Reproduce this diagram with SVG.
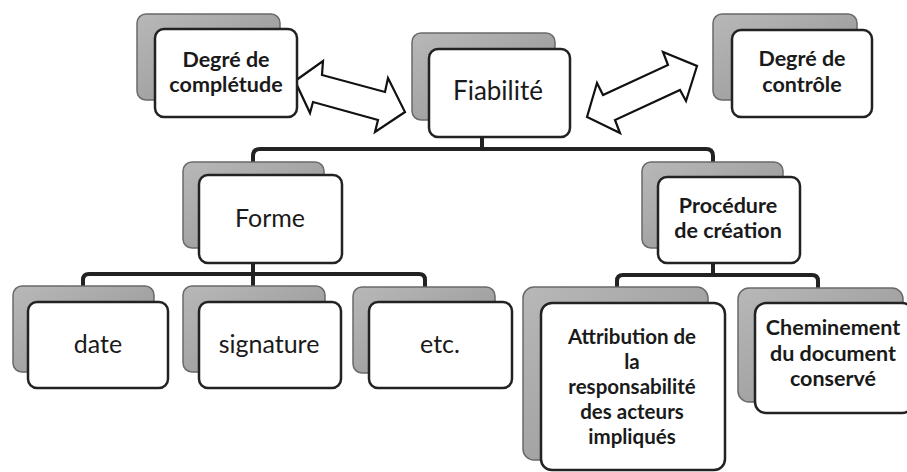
<svg xmlns="http://www.w3.org/2000/svg" width="907" height="472" viewBox="0 0 907 472">
<defs>
<linearGradient id="g" x1="0" y1="0" x2="1" y2="1">
<stop offset="0" stop-color="#b8b8b8"/>
<stop offset="1" stop-color="#929292"/>
</linearGradient>
</defs>
<style>
.back{fill:url(#g);stroke:#6a6a6a;stroke-width:1.5}
.front{fill:#fff;stroke:#222;stroke-width:2.5}
.line{fill:none;stroke:#222;stroke-width:4;stroke-linejoin:round}
.arrow{fill:#fff;stroke:#111;stroke-width:2.2;stroke-linejoin:miter}
text{font-family:Lato,"Open Sans","Liberation Sans",sans-serif;fill:#1a1a1a;text-anchor:middle}
.b{font-weight:bold;font-size:21.5px}
.n{font-size:25px}
.a{font-weight:bold;font-size:20.5px}
</style>
<rect width="907" height="472" fill="#fff"/>
<g id="connectors">
<path class="line" d="M253,163 V156 Q253,149 260,149 H706 Q713,149 713,156 V163"/>
<path class="line" d="M482,137 V149"/>
<path class="line" d="M253,263 V286"/>
<path class="line" d="M83,287 V280 Q83,274 89,274 H419 Q425,274 425,280 V288"/>
<path class="line" d="M713,263 V275"/>
<path class="line" d="M617,288 V281 Q617,275 623,275 H812 Q818,275 818,281 V289"/>
<polygon class="arrow" points="295,81 323,61 322,75 385,92 388,78 405,112 375,132 378,120 313,102 310,113"/>
<polygon class="arrow" points="587,117 597,83 603,95 668,65 663,52 697,66 686,101 680,90 615,120 620,133"/>
</g>
<g id="n-completude">
<rect class="back" x="137" y="14" width="143" height="86" rx="9"/>
<rect class="front" x="155" y="29" width="142" height="88" rx="9"/>
<text class="b" x="226" y="67">Degré de</text>
<text class="b" x="226" y="92">complétude</text>
</g>
<g id="n-fiabilite">
<rect class="back" x="412" y="33" width="143" height="87" rx="9"/>
<rect class="front" x="429" y="49" width="141" height="88" rx="9"/>
<text class="n" x="498" y="100" style="font-size:26px">Fiabilité</text>
</g>
<g id="n-controle">
<rect class="back" x="713" y="14" width="144" height="86" rx="9"/>
<rect class="front" x="732" y="30" width="140" height="87" rx="9"/>
<text class="b" x="802" y="66">Degré de</text>
<text class="b" x="802" y="92">contrôle</text>
</g>
<g id="n-forme">
<rect class="back" x="183" y="162" width="141" height="86" rx="9"/>
<rect class="front" x="199" y="175" width="143" height="88" rx="9"/>
<text class="n" x="270" y="227">Forme</text>
</g>
<g id="n-procedure">
<rect class="back" x="642" y="162" width="141" height="86" rx="9"/>
<rect class="front" x="658" y="177" width="142" height="86" rx="9"/>
<text class="b" x="728" y="213">Procédure</text>
<text class="b" x="728" y="238">de création</text>
</g>
<g id="n-date">
<rect class="back" x="13" y="286" width="141" height="86" rx="9"/>
<rect class="front" x="28" y="302" width="140" height="86" rx="9"/>
<text class="n" x="98" y="353">date</text>
</g>
<g id="n-signature">
<rect class="back" x="183" y="286" width="142" height="86" rx="9"/>
<rect class="front" x="199" y="302" width="142" height="86" rx="9"/>
<text class="n" x="269" y="353">signature</text>
</g>
<g id="n-etc">
<rect class="back" x="353" y="287" width="142" height="86" rx="9"/>
<rect class="front" x="369" y="302" width="143" height="86" rx="9"/>
<text class="n" x="440" y="353">etc.</text>
</g>
<g id="n-attribution">
<rect class="back" x="523" y="287" width="185" height="173" rx="11"/>
<rect class="front" x="541" y="303" width="184" height="167" rx="11"/>
<text class="a" x="632" y="344">Attribution de</text>
<text class="a" x="632" y="369">la</text>
<text class="a" x="632" y="394">responsabilité</text>
<text class="a" x="632" y="419">des acteurs</text>
<text class="a" x="632" y="444">impliqués</text>
</g>
<g id="n-cheminement">
<rect class="back" x="738" y="288" width="165" height="114" rx="11"/>
<rect class="front" x="755" y="303" width="158" height="110" rx="11"/>
<text class="b" x="833" y="335">Cheminement</text>
<text class="b" x="833" y="361">du document</text>
<text class="b" x="833" y="386">conservé</text>
</g>
</svg>
